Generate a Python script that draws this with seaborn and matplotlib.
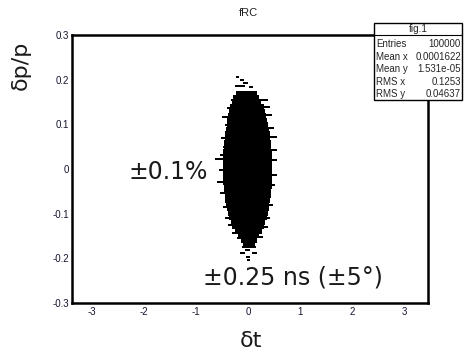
import matplotlib
matplotlib.use("Agg")
import matplotlib.pyplot as plt
from matplotlib.patches import Rectangle
from matplotlib.lines import Line2D
from matplotlib.ticker import MultipleLocator
import seaborn as sns

# Dense core of the dt vs dp/p distribution: one row per 0.01 in dp/p
core_y = [0.17, 0.16, 0.15, 0.14, 0.13, 0.12, 0.11, 0.10, 0.09, 0.08, 0.07, 0.06,
          0.05, 0.04, 0.03, 0.02, 0.01, 0.00, -0.01, -0.02, -0.03, -0.04, -0.05,
          -0.06, -0.07, -0.08, -0.09, -0.10, -0.11, -0.12, -0.13, -0.14, -0.15,
          -0.16, -0.17]
core_left = [-0.24, -0.29, -0.31, -0.34, -0.36, -0.38, -0.40, -0.41, -0.43, -0.44,
             -0.45, -0.46, -0.47, -0.48, -0.48, -0.49, -0.49, -0.49, -0.49, -0.48,
             -0.48, -0.47, -0.46, -0.45, -0.44, -0.43, -0.41, -0.39, -0.37, -0.33,
             -0.30, -0.26, -0.20, -0.14, -0.10]
core_right = [0.17, 0.22, 0.25, 0.30, 0.33, 0.35, 0.37, 0.39, 0.41, 0.42, 0.43, 0.44,
              0.45, 0.46, 0.47, 0.47, 0.47, 0.47, 0.47, 0.47, 0.46, 0.46, 0.45,
              0.44, 0.43, 0.41, 0.40, 0.38, 0.36, 0.32, 0.30, 0.27, 0.21, 0.17, 0.14]

# Sparse tail bins around the core
tail_y = [0.206, 0.199, 0.192, 0.186, 0.183, 0.154, 0.136, 0.116, 0.098, 0.069,
          0.049, 0.031, 0.022, -0.002, -0.029, -0.054, -0.085, -0.110, -0.125,
          -0.143, -0.154, 0.154, 0.139, 0.121, 0.092, 0.072, 0.043, 0.020, -0.013,
          -0.036, -0.081, -0.110, -0.130, -0.152, -0.175, -0.181, -0.188, -0.188,
          -0.197, -0.204]
tail_left = [-0.23, -0.15, -0.10, -0.25, 0.02, -0.33, -0.40, -0.50, -0.44, -0.52,
             -0.48, -0.54, -0.63, -0.56, -0.60, -0.54, -0.48, -0.44, -0.38, -0.31,
             -0.21, 0.20, 0.30, 0.33, 0.38, 0.42, 0.42, 0.44, 0.44, 0.42, 0.38,
             0.32, 0.27, 0.17, -0.12, -0.06, -0.15, 0.08, -0.04, -0.02]
tail_right = [-0.17, -0.08, 0.00, -0.05, 0.10, -0.20, -0.30, -0.35, -0.35, -0.42,
              -0.40, -0.40, -0.45, -0.45, -0.45, -0.40, -0.35, -0.30, -0.20, -0.12,
              -0.06, 0.38, 0.42, 0.46, 0.50, 0.56, 0.56, 0.56, 0.56, 0.52, 0.48,
              0.42, 0.38, 0.29, 0.15, 0.04, -0.06, 0.17, 0.04, 0.04]

x_ticks = [-3, -2, -1, 0, 1, 2, 3]
y_ticks = [-0.3, -0.2, -0.1, 0, 0.1, 0.2, 0.3]
y_tick_labels = ["-0.3", "-0.2", "-0.1", "0", "0.1", "0.2", "0.3"]

stats_labels = ["Entries", "Mean x", "Mean y", "RMS x", "RMS y"]
stats_values = ["100000", "0.0001622", "1.531e-05", "0.1253", "0.04637"]

sns.set_style("white")
plt.rcParams["font.family"] = ["Liberation Sans", "DejaVu Sans"]

W, H = 466, 359
fig = plt.figure(figsize=(W / 100, H / 100), dpi=100)
ax = fig.add_axes([72 / W, 1 - 303 / H, (428 - 72) / W, (303 - 35) / H])

ax.barh(core_y, [r - l for l, r in zip(core_left, core_right)], left=core_left,
        height=0.0102, color="black", linewidth=0)
ax.barh(tail_y, [r - l for l, r in zip(tail_left, tail_right)], left=tail_left,
        height=0.0045, color="black", linewidth=0)

ax.set_xlim(-3.385, 3.46)
ax.set_ylim(-0.3, 0.3)
ax.set_xticks(x_ticks)
ax.set_xticklabels([str(t) for t in x_ticks])
ax.set_yticks(y_ticks)
ax.set_yticklabels(y_tick_labels)
ax.xaxis.set_minor_locator(MultipleLocator(0.2))
ax.yaxis.set_minor_locator(MultipleLocator(0.02))
ax.tick_params(axis="both", which="both", direction="in", top=False, right=False,
               labelsize=7, width=1, color="black", labelcolor="#151530")
ax.tick_params(axis="x", which="major", length=7, pad=3)
ax.tick_params(axis="x", which="minor", length=3.5)
ax.tick_params(axis="y", which="major", length=8, pad=2)
ax.tick_params(axis="y", which="minor", length=4)
for s in ax.spines.values():
    s.set_visible(True)
    s.set_color("black")
    s.set_linewidth(1.8)
ax.grid(False)

big = ["DejaVu Sans"]
fig.text(21 / W, 1 - 65 / H, "δp/p", rotation=90, ha="center", va="center",
         fontsize=16, family=big, color="#1a1a1a")
fig.text(251 / W, 1 - 341 / H, "δt", ha="center", va="center", fontsize=16,
         family=big, color="#1a1a1a")
fig.text(248 / W, 1 - 13 / H, "fRC", ha="center", va="center", fontsize=8,
         color="#222222")

ax.text(-0.77, -0.006, "±0.1%", ha="right", va="center", fontsize=17,
        family=big, color="#1a1a1a")
ax.text(-0.87, -0.244, "±0.25 ns (±5°)", ha="left", va="center", fontsize=17,
        family=big, color="#1a1a1a")

# Statistics box
bx0, by0, bx1, by1 = 374, 23, 462, 100
fig.patches.append(Rectangle((bx0 / W, 1 - by1 / H), (bx1 - bx0) / W, (by1 - by0) / H,
                             transform=fig.transFigure, facecolor="white",
                             edgecolor="black", linewidth=1.0, zorder=5))
fig.lines.append(Line2D([bx0 / W, bx1 / W], [1 - 35 / H, 1 - 35 / H],
                        transform=fig.transFigure, color="black", linewidth=0.8,
                        zorder=6))
fig.text((bx0 + bx1) / 2 / W, 1 - 29 / H, "fig.1", ha="center", va="center",
         fontsize=7.2, zorder=7)
for i, (lab, val) in enumerate(zip(stats_labels, stats_values)):
    yy = 1 - (44 + i * 12.6) / H
    fig.text(376 / W, yy, lab, ha="left", va="center", fontsize=7, zorder=7)
    fig.text(461 / W, yy, val, ha="right", va="center", fontsize=7, zorder=7)

fig.savefig("out.png", dpi=100)
